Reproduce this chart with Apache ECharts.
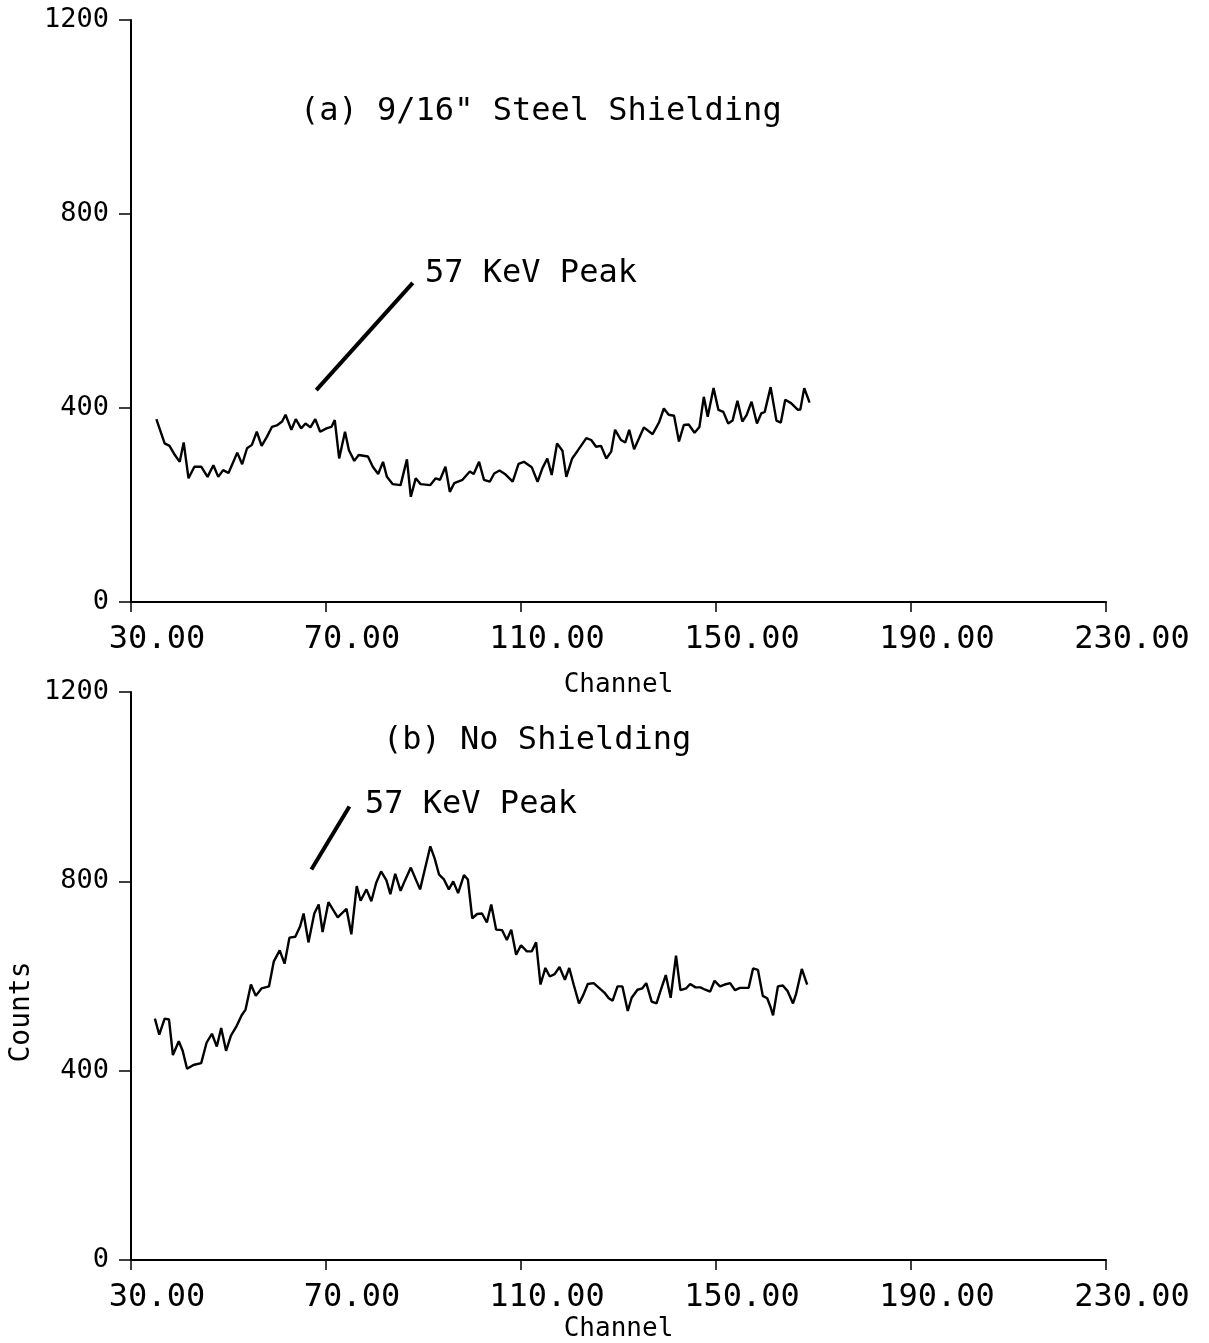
<!DOCTYPE html>
<html>
<head>
<meta charset="utf-8">
<script src="https://cdn.jsdelivr.net/npm/echarts@6/dist/echarts.min.js"></script>
<style>
html, body { margin: 0; padding: 0; background: #fff; }
#chart { width: 1209px; height: 1343px; }
</style>
</head>
<body>
<div id="chart"></div>
<script>
// (a) 9/16" steel shielding
var channelsA = [35.2, 36.9, 37.9, 39.0, 40.0, 40.8, 41.8, 43.0, 44.4, 45.7, 46.9, 47.9, 48.9, 50.0,
    51.8, 52.8, 53.8, 54.8, 55.8, 56.8, 57.9, 58.9, 59.9, 61.0, 61.7, 62.9, 63.8, 64.9, 65.8, 66.8,
    67.8, 68.8, 70.1, 71.1, 71.8, 72.7, 73.9, 74.7, 75.8, 76.7, 78.6, 79.6, 80.7, 81.7, 82.5, 83.7,
    85.3, 86.6, 87.4, 88.4, 89.4, 91.4, 92.5, 93.4, 94.5, 95.4, 96.3, 98.0, 99.5, 100.3, 101.4, 102.4,
    103.6, 104.5, 105.6, 106.7, 108.3, 109.5, 110.6, 112.2, 113.4, 114.4, 115.4, 116.3, 117.4, 118.5,
    119.3, 120.5, 121.7, 123.4, 124.4, 125.4, 126.4, 127.5, 128.5, 129.3, 130.5, 131.4, 132.2, 133.2,
    135.2, 137.0, 138.3, 139.3, 140.3, 141.4, 142.4, 143.4, 144.4, 145.6, 146.6, 147.5, 148.3, 149.5,
    150.5, 151.5, 152.5, 153.4, 154.4, 155.4, 156.3, 157.3, 158.4, 159.3, 160.0, 161.2, 162.4, 163.3,
    164.2, 165.4, 166.8, 167.3, 168.1, 169.2];
var countsA = [377, 327, 322, 303, 289, 329, 255, 279, 279, 258, 282, 258, 272, 266,
    308, 284, 317, 324, 351, 322, 341, 361, 364, 372, 386, 355, 377, 358, 368, 360,
    377, 351, 358, 361, 375, 296, 351, 313, 291, 303, 300, 279, 264, 289, 258, 243,
    241, 294, 217, 255, 243, 241, 255, 252, 279, 227, 245, 252, 269, 264, 289, 252,
    248, 265, 271, 264, 248, 285, 289, 278, 248, 276, 296, 262, 327, 312,
    258, 296, 313, 338, 334, 320, 322, 296, 310, 355, 334, 329, 355, 315,
    360, 346, 370, 399, 386, 384, 331, 365, 366, 349, 361, 423, 382, 441,
    396, 392, 368, 374, 415, 372, 386, 413, 368, 389, 392, 443, 374, 370,
    417, 410, 396, 397, 441, 411];

// (b) no shielding
var channelsB = [34.9, 35.8, 36.9, 37.8, 38.6, 39.8, 40.6, 41.5, 42.8, 44.4, 45.5, 46.6, 47.6, 48.5,
    49.5, 50.5, 51.6, 52.7, 53.5, 54.6, 55.6, 56.8, 58.3, 59.3, 60.5, 61.5, 62.5, 63.7, 64.7, 65.4,
    66.4, 67.6, 68.5, 69.3, 70.5, 72.4, 74.2, 75.2, 76.3, 77.1, 78.3, 79.3, 80.3, 81.3, 82.4, 83.2,
    84.2, 85.3, 86.2, 87.4, 88.5, 89.3, 90.5, 91.4, 92.3, 93.2, 94.2, 95.2, 96.1, 97.1, 98.3, 99.1,
    100.0, 101.0, 102.0, 103.0, 103.9, 104.9, 106.1, 107.1, 108.0, 109.0, 110.0, 111.2, 112.2, 113.1,
    114.0, 115.0, 115.9, 116.9, 117.9, 119.0, 119.9, 120.8, 121.9, 122.7, 123.7, 124.9, 126.0, 127.1,
    128.0, 128.8, 129.8, 130.8, 131.9, 132.7, 133.9, 134.9, 135.7, 136.8, 137.8, 138.6, 139.7, 140.7,
    141.8, 142.7, 143.9, 144.7, 145.8, 146.8, 147.8, 148.8, 149.7, 150.8, 151.8, 152.9, 153.9, 154.9,
    156.7, 157.6, 158.6, 159.6, 160.5, 161.2, 161.7, 162.7, 163.7, 164.7, 165.8, 166.4, 167.6, 168.7];
var countsB = [510, 476, 510, 508, 433, 462, 442, 404, 412, 416, 459, 478, 451, 490,
    442, 474, 493, 517, 529, 582, 558, 574, 578, 631, 654, 626, 681, 683, 705, 732,
    671, 732, 751, 693, 756, 724, 742, 688, 790, 759, 783, 758, 797, 821, 802, 773,
    816, 780, 802, 829, 802, 783, 835, 874, 848, 814, 804, 783, 800, 775, 813, 804,
    722, 731, 732, 713, 751, 698, 697, 676, 698, 645, 665, 652, 652, 671,
    582, 617, 599, 604, 619, 592, 617, 582, 542, 558, 583, 585, 575, 565,
    553, 548, 578, 578, 526, 554, 571, 574, 585, 546, 542, 568, 602, 554,
    643, 570, 574, 583, 576, 576, 571, 567, 590, 578, 582, 585, 570, 575,
    575, 616, 613, 558, 553, 534, 517, 578, 580, 568, 542, 561, 615, 582];

// pointer lines for the 57 KeV peak, [channel, counts] of both ends
var pointerA = [[68.0, 437], [87.8, 658]];
var pointerB = [[67.0, 825], [74.8, 958]];

var xTicks = [30, 230, 40];
var yTicks = [0, 1200, 400];

function pairs(xs, ys) {
    var out = [];
    for (var i = 0; i < xs.length; i++) out.push([xs[i], ys[i]]);
    return out;
}

var mono = 'DejaVu Sans Mono';

function xAxisFor(idx, nameGap) {
    return {
        type: 'value', gridIndex: idx,
        min: xTicks[0], max: xTicks[1], interval: xTicks[2],
        axisLine: { show: true, onZero: false, lineStyle: { color: '#000', width: 2 } },
        axisTick: { show: true, length: 10, lineStyle: { color: '#000', width: 1.5 } },
        splitLine: { show: false },
        axisLabel: {
            formatter: function (v) { return v.toFixed(2); },
            fontFamily: mono, fontSize: 32, color: '#000',
            margin: 22, padding: [0, 0, 0, 52]
        },
        name: 'Channel', nameLocation: 'middle', nameGap: nameGap,
        nameTextStyle: { fontFamily: mono, fontSize: 26, color: '#000' }
    };
}

function yAxisFor(idx) {
    return {
        type: 'value', gridIndex: idx,
        min: yTicks[0], max: yTicks[1], interval: yTicks[2],
        axisLine: { show: true, onZero: false, lineStyle: { color: '#000', width: 2 } },
        axisTick: { show: true, length: 12, lineStyle: { color: '#000', width: 1.5 } },
        splitLine: { show: false },
        axisLabel: {
            formatter: function (v) { return String(v); },
            fontFamily: mono, fontSize: 27, color: '#000', margin: 22
        }
    };
}

function spectrum(idx, data, pointer) {
    return {
        type: 'line', xAxisIndex: idx, yAxisIndex: idx,
        data: data, showSymbol: false, symbol: 'none',
        lineStyle: { color: '#000', width: 2.4 },
        markLine: {
            silent: true, symbol: 'none', label: { show: false },
            lineStyle: { color: '#000', width: 4, type: 'solid' },
            data: [[{ coord: pointer[0] }, { coord: pointer[1] }]]
        }
    };
}

var myChart = echarts.init(document.getElementById('chart'));

var textStyle = { fontFamily: mono, fontSize: 32, fill: '#000' };

var option = {
    animation: false,
    backgroundColor: '#fff',
    grid: [
        { left: 131, right: 103, top: 20, height: 582 },
        { left: 131, right: 103, top: 692, height: 585 }
    ],
    xAxis: [xAxisFor(0, 70), xAxisFor(1, 56)],
    yAxis: [yAxisFor(0), yAxisFor(1)],
    series: [
        spectrum(0, pairs(channelsA, countsA), pointerA),
        spectrum(1, pairs(channelsB, countsB), pointerB)
    ],
    graphic: [
        { type: 'text', left: 300, top: 96, style: Object.assign({ text: '(a) 9/16" Steel Shielding' }, textStyle) },
        { type: 'text', left: 425, top: 258, style: Object.assign({ text: '57 KeV Peak' }, textStyle) },
        { type: 'text', left: 383, top: 725, style: Object.assign({ text: '(b) No Shielding' }, textStyle) },
        { type: 'text', left: 365, top: 789, style: Object.assign({ text: '57 KeV Peak' }, textStyle) },
        { type: 'text', x: 22, y: 1012, rotation: Math.PI / 2,
          style: { text: 'Counts', fontFamily: mono, fontSize: 28, fill: '#000', align: 'center', verticalAlign: 'middle' } }
    ]
};

myChart.setOption(option);
</script>
</body>
</html>
